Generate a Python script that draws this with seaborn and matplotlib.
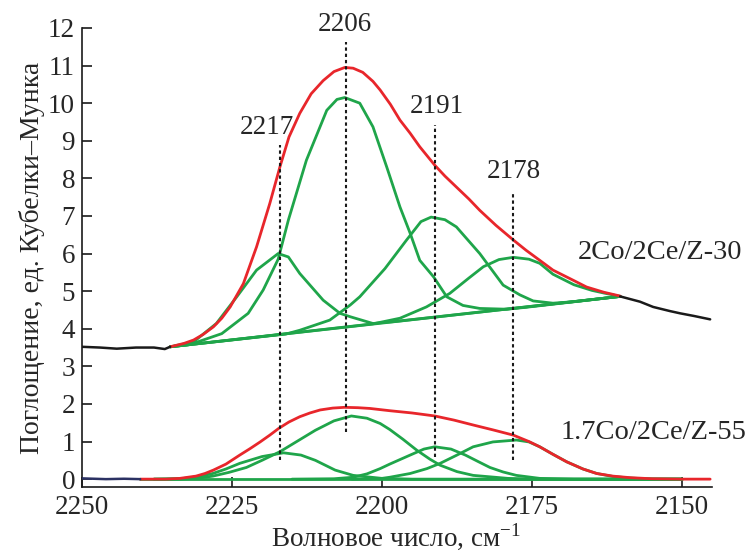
import matplotlib
matplotlib.use("Agg")
import matplotlib.pyplot as plt
import seaborn as sns

# ---- data ----
# upper spectrum 2Co/2Ce/Z-30
top_left_x = [2250, 2247, 2244.2, 2241, 2238, 2236.2, 2235.3]
top_left_y = [3.52, 3.50, 3.47, 3.50, 3.50, 3.46, 3.52]
top_right_x = [2160.3, 2157, 2154.8, 2152, 2150.3, 2148, 2145.3]
top_right_y = [4.86, 4.72, 4.58, 4.47, 4.41, 4.34, 4.25]

top_sum_x = [2235.3, 2233, 2231.4, 2229.8, 2228.1, 2226.7, 2225.3, 2223.1, 2220.9, 2218.7,
             2217.0, 2215.5, 2213.7, 2211.8, 2209.8, 2208, 2206.2, 2204.8, 2203.2, 2201.5,
             2200.3, 2198.6, 2197, 2195.3, 2193.7, 2191.2, 2189.5, 2187.6, 2185.5, 2183.7,
             2181, 2178.1, 2176, 2173.7, 2171.5, 2168, 2165.9, 2163, 2160.3]
top_sum_y = [3.52, 3.61, 3.70, 3.85, 4.05, 4.28, 4.58, 5.20, 6.18, 7.33,
             8.31, 9.10, 9.73, 10.25, 10.60, 10.84, 10.95, 10.93, 10.82, 10.58,
             10.35, 9.97, 9.55, 9.20, 8.84, 8.35, 8.06, 7.77, 7.45, 7.15,
             6.75, 6.36, 6.09, 5.82, 5.56, 5.28, 5.11, 4.97, 4.87]

top_base_x = [2235.3, 2160.3]
top_base_y = [3.52, 4.86]

top_p2217_x = [2235.3, 2231.4, 2227.6, 2224.2, 2220.9, 2217.3, 2215.6, 2213.7, 2209.8,
               2207, 2205.3, 2201.5, 2198, 2160.3]
top_p2217_y = [3.52, 3.65, 4.14, 4.85, 5.56, 6.00, 5.91, 5.47, 4.76,
               4.41, 4.32, 4.14, 4.19, 4.86]

top_p2206_x = [2235.3, 2232, 2226.7, 2222.3, 2219.8, 2217.3, 2215.6, 2212.6, 2209.2,
               2207.5, 2206.2, 2203.7, 2201.5, 2199.2, 2197, 2195.3, 2193.7, 2191.4,
               2189.2, 2186.5, 2183.7, 2179.2, 2176, 2160.3]
top_p2206_y = [3.52, 3.58, 3.87, 4.41, 5.03, 5.85, 6.89, 8.48, 9.81,
               10.10, 10.15, 10.00, 9.37, 8.30, 7.24, 6.54, 5.82, 5.38,
               4.85, 4.62, 4.54, 4.52, 4.57, 4.86]

top_p2191_x = [2235.3, 2216, 2213.7, 2208.7, 2205.3, 2203.7, 2199.5, 2195.9, 2193.5,
               2191.8, 2189.5, 2187.6, 2183.7, 2179.8, 2177, 2174.8, 2171.5, 2168, 2160.3]
top_p2191_y = [3.52, 3.86, 3.96, 4.23, 4.63, 4.85, 5.60, 6.36, 6.85,
               6.97, 6.90, 6.71, 6.00, 5.16, 4.90, 4.74, 4.68, 4.72, 4.86]

top_p2178_x = [2235.3, 2201.5, 2197, 2192.6, 2188.7, 2185.5, 2183.1, 2180.5, 2178.1,
               2175.5, 2173.7, 2171.5, 2168, 2165, 2163, 2160.3]
top_p2178_y = [3.52, 4.13, 4.28, 4.58, 4.94, 5.35, 5.65, 5.84, 5.90,
               5.85, 5.74, 5.45, 5.17, 5.02, 4.95, 4.86]

# lower spectrum 1.7Co/2Ce/Z-55
bot_left_x = [2250, 2246, 2243, 2240.3]
bot_left_y = [0.02, 0.00, 0.01, 0.00]

bot_sum_x = [2240.3, 2236, 2233.7, 2231, 2229.5, 2228.1, 2226, 2223.7, 2222, 2220.3,
             2218.7, 2217.2, 2215.5, 2213.7, 2212, 2210.3, 2208.2, 2206.2, 2204,
             2202, 2198.7, 2195, 2191.2, 2188, 2184.8, 2181.5, 2178.1, 2175.5, 2173.7,
             2171.5, 2169.2, 2166.5, 2164.2, 2161.5, 2158.7, 2155, 2150, 2145.3]
bot_sum_y = [0.00, 0.00, 0.02, 0.08, 0.15, 0.24, 0.40, 0.64, 0.81, 0.99,
             1.17, 1.35, 1.52, 1.66, 1.76, 1.84, 1.89, 1.91, 1.90,
             1.88, 1.82, 1.76, 1.68, 1.57, 1.44, 1.31, 1.17, 1.00, 0.86,
             0.66, 0.46, 0.27, 0.15, 0.08, 0.04, 0.01, 0.00, 0.00]

bot_base_x = [2240.3, 2150]
bot_base_y = [0.0, 0.0]

bot_p2217_x = [2238, 2233, 2230.5, 2228.2, 2226, 2223.7, 2220, 2216.4, 2213.5,
               2211.1, 2207.8, 2204.8, 2200, 2195, 2150]
bot_p2217_y = [0.00, 0.02, 0.07, 0.15, 0.27, 0.42, 0.60, 0.70, 0.64,
               0.50, 0.24, 0.10, 0.02, 0.00, 0.00]

bot_p2206_x = [2238, 2233.7, 2230.5, 2228.2, 2225.5, 2222.6, 2220, 2217, 2214, 2211.1,
               2208, 2205.1, 2202.5, 2200.3, 2198.7, 2196.5, 2194.2, 2192, 2190.3,
               2187.5, 2184.8, 2179, 2175, 2150]
bot_p2206_y = [0.00, 0.00, 0.03, 0.08, 0.18, 0.31, 0.50, 0.73, 1.02, 1.30,
               1.55, 1.68, 1.62, 1.48, 1.32, 1.06, 0.77, 0.53, 0.37,
               0.20, 0.10, 0.02, 0.00, 0.00]

bot_p2191_x = [2215, 2208, 2204.8, 2202.5, 2200.3, 2198.7, 2195.3, 2193, 2191.2,
               2188.5, 2186.1, 2184, 2182, 2179.8, 2177.6, 2173.7, 2168, 2150]
bot_p2191_y = [0.00, 0.01, 0.05, 0.14, 0.28, 0.40, 0.64, 0.80, 0.86,
               0.80, 0.64, 0.47, 0.31, 0.19, 0.10, 0.02, 0.00, 0.00]

bot_p2178_x = [2205, 2200, 2198.7, 2195.3, 2192.5, 2190.3, 2187.5, 2184.8, 2181.5,
               2177.6, 2175.5, 2173.7, 2171.5, 2169.2, 2166.5, 2164.2, 2161.5,
               2158.7, 2155, 2150]
bot_p2178_y = [0.00, 0.02, 0.05, 0.15, 0.28, 0.42, 0.64, 0.86, 0.99,
               1.04, 0.99, 0.86, 0.66, 0.46, 0.27, 0.15, 0.07,
               0.03, 0.00, 0.00]

# dotted peak markers: position, lower end, upper end
peak_pos = [2217, 2206, 2191.2, 2178.1]
peak_low = [0.50, 1.26, 0.59, 0.50]
peak_high = [8.88, 11.63, 9.41, 7.64]
peak_labels = ["2217", "2206", "2191", "2178"]
label_x = [2219.2, 2206.2, 2190.8, 2178.0]
label_y = [9.36, 12.1, 9.9, 8.17]

sample_names = ["2Co/2Ce/Z-30", "1.7Co/2Ce/Z-55"]

x_ticks = [2250, 2225, 2200, 2175, 2150]
y_ticks = list(range(0, 13))

RED = "#e8262b"
GREEN = "#1fa54a"
BLACK = "#1a1a1a"
NAVY = "#2b3163"

sns.set_style("ticks")
plt.rcParams['font.family'] = ['Liberation Serif', 'DejaVu Serif']
plt.rcParams['mathtext.fontset'] = 'custom'
plt.rcParams['mathtext.rm'] = 'Liberation Serif'
plt.rcParams['font.size'] = 19

fig = plt.figure(figsize=(7.48, 5.53), dpi=100)
ax = fig.add_axes([0.1096, 0.1193, 0.8422, 0.8301])


def line(x, y, color, lw=2.0, z=2):
    sns.lineplot(x=x, y=y, ax=ax, color=color, linewidth=lw,
                 estimator=None, sort=False, zorder=z)


# green components first, then sums, then raw spectrum ends
for xs, ys in [(top_base_x, top_base_y), (top_p2217_x, top_p2217_y),
               (top_p2206_x, top_p2206_y), (top_p2191_x, top_p2191_y),
               (top_p2178_x, top_p2178_y), (bot_base_x, bot_base_y),
               (bot_p2217_x, bot_p2217_y), (bot_p2206_x, bot_p2206_y),
               (bot_p2191_x, bot_p2191_y), (bot_p2178_x, bot_p2178_y)]:
    line(xs, ys, GREEN, z=2)

line(top_sum_x, top_sum_y, RED, z=3)
line(bot_sum_x, bot_sum_y, RED, z=3)
line(top_left_x, top_left_y, BLACK, lw=1.8, z=3)
line(top_right_x, top_right_y, BLACK, lw=1.8, z=3)
line(bot_left_x, bot_left_y, NAVY, lw=1.8, z=3)

ax.vlines(peak_pos, peak_low, peak_high, colors=BLACK, linewidth=1.5,
          linestyles=(0, (1.6, 1.4)), zorder=4)

for lbl, lx, ly in zip(peak_labels, label_x, label_y):
    ax.text(lx, ly, lbl, ha="center", va="center", fontsize=19.5, clip_on=False)

ax.text(2167.3, 6.04, sample_names[0], ha="left", va="center", fontsize=20.5, clip_on=False)
ax.text(2170.2, 1.25, sample_names[1], ha="left", va="center", fontsize=20.5, clip_on=False)

ax.set_xlim(2250, 2145)
ax.set_ylim(-0.21, 12)
ax.set_xticks(x_ticks)
ax.set_yticks(y_ticks)
ax.tick_params(direction="in", length=7, width=1.2, labelsize=19.5, color=BLACK)
ax.tick_params(axis="x", pad=6)
ax.tick_params(axis="y", pad=5)
for side in ["left", "bottom"]:
    ax.spines[side].set_linewidth(1.2)
    ax.spines[side].set_color(BLACK)
sns.despine(ax=ax)

ax.set_xlabel(r"Волновое число, см$^{-1}$", fontsize=19.5)
ax.xaxis.label.set_va("baseline")
ax.xaxis.set_label_coords(0.499, -0.13)
ax.set_ylabel("Поглощение, ед. Кубелки–Мунка", fontsize=20, labelpad=2)

fig.savefig("out.png", dpi=100)
